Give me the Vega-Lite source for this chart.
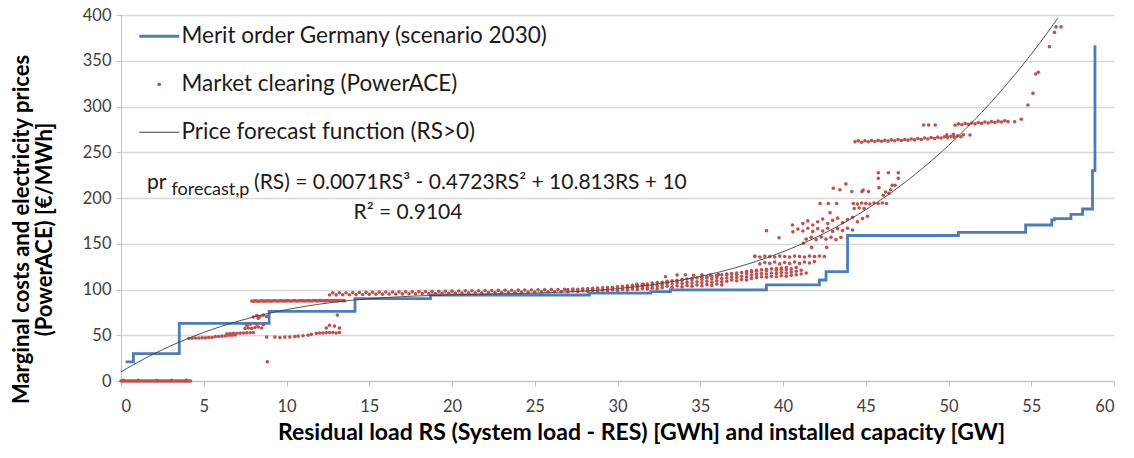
{
  "$schema": "https://vega.github.io/schema/vega-lite/v6.json",
  "width": 993,
  "height": 366,
  "autosize": "none",
  "padding": {"left": 121, "top": 15, "right": 20, "bottom": 77},
  "background": "white",
  "config": {"view": {"stroke": null}, "font": "Lato"},
  "datasets": {
    "merit": [
      {"x": 0.28, "y": 21}, {"x": 0.75, "y": 30}, {"x": 3.52, "y": 63}, {"x": 8.95, "y": 76},
      {"x": 14.14, "y": 90}, {"x": 18.7, "y": 94}, {"x": 28.3, "y": 96}, {"x": 32.0, "y": 97.6},
      {"x": 33.2, "y": 99.5}, {"x": 39.0, "y": 105}, {"x": 42.2, "y": 110.4}, {"x": 42.6, "y": 119.5},
      {"x": 43.9, "y": 159}, {"x": 50.6, "y": 162.5}, {"x": 54.66, "y": 170.5}, {"x": 56.24, "y": 176},
      {"x": 56.4, "y": 177.5}, {"x": 57.4, "y": 182}, {"x": 58.1, "y": 188}, {"x": 58.7, "y": 230},
      {"x": 58.85, "y": 367}
    ],
    "forecast": [
      {"x": 0, "y": 10}, {"x": 1, "y": 20.35}, {"x": 2, "y": 29.79}, {"x": 3, "y": 38.38},
      {"x": 4, "y": 46.15}, {"x": 5, "y": 53.15}, {"x": 6, "y": 59.41}, {"x": 7, "y": 64.98},
      {"x": 8, "y": 69.91}, {"x": 9, "y": 74.24}, {"x": 10, "y": 77.99}, {"x": 12, "y": 84.01},
      {"x": 14, "y": 88.29}, {"x": 16, "y": 91.18}, {"x": 18, "y": 93.02}, {"x": 20, "y": 94.14},
      {"x": 22, "y": 94.89}, {"x": 24, "y": 95.62}, {"x": 26, "y": 96.65}, {"x": 28, "y": 98.34},
      {"x": 30, "y": 101.02}, {"x": 32, "y": 105.03}, {"x": 34, "y": 110.72}, {"x": 36, "y": 118.42},
      {"x": 38, "y": 128.48}, {"x": 40, "y": 141.24}, {"x": 42, "y": 157.03}, {"x": 44, "y": 176.21},
      {"x": 46, "y": 199.1}, {"x": 48, "y": 226.05}, {"x": 50, "y": 257.4}, {"x": 52, "y": 293.49},
      {"x": 54, "y": 334.67}, {"x": 55, "y": 357.27}, {"x": 56, "y": 381.27}, {"x": 56.6, "y": 396.4}
    ],
    "market": [
      {"x": 0.0, "y": 0}, {"x": 0.1, "y": 0}, {"x": 0.2, "y": 0}, {"x": 0.3, "y": 0}, {"x": 0.4, "y": 0}, {"x": 0.5, "y": 0}, {"x": 0.6, "y": 0}, {"x": 0.7, "y": 0}, {"x": 0.8, "y": 0}, {"x": 0.9, "y": 0},
      {"x": 1.0, "y": 0}, {"x": 1.1, "y": 0}, {"x": 1.2, "y": 0}, {"x": 1.3, "y": 0}, {"x": 1.4, "y": 0}, {"x": 1.5, "y": 0}, {"x": 1.6, "y": 0}, {"x": 1.7, "y": 0}, {"x": 1.8, "y": 0}, {"x": 1.9, "y": 0},
      {"x": 2.0, "y": 0}, {"x": 2.1, "y": 0}, {"x": 2.2, "y": 0}, {"x": 2.3, "y": 0}, {"x": 2.4, "y": 0}, {"x": 2.5, "y": 0}, {"x": 2.6, "y": 0}, {"x": 2.7, "y": 0}, {"x": 2.8, "y": 0}, {"x": 2.9, "y": 0},
      {"x": 3.0, "y": 0}, {"x": 3.1, "y": 0}, {"x": 3.2, "y": 0}, {"x": 3.3, "y": 0}, {"x": 3.4, "y": 0}, {"x": 3.5, "y": 0}, {"x": 3.6, "y": 0}, {"x": 3.7, "y": 0}, {"x": 3.8, "y": 0}, {"x": 3.9, "y": 0},
      {"x": 4.0, "y": 0}, {"x": 4.1, "y": 0}, {"x": 4.2, "y": 0}, {"x": 0.15, "y": 0.8}, {"x": 1.05, "y": 0.8}, {"x": 2.15, "y": 0.8}, {"x": 3.05, "y": 0.8}, {"x": 3.95, "y": 0.8},
      {"x": 4.1, "y": 46.5}, {"x": 4.3, "y": 46.8}, {"x": 4.5, "y": 47}, {"x": 4.7, "y": 47}, {"x": 4.9, "y": 47.2},
      {"x": 5.1, "y": 47.3}, {"x": 5.3, "y": 47.5}, {"x": 5.5, "y": 47.6}, {"x": 5.7, "y": 48.5}, {"x": 5.9, "y": 48.7},
      {"x": 6.1, "y": 49}, {"x": 6.3, "y": 49.2}, {"x": 6.5, "y": 50}, {"x": 6.7, "y": 50}, {"x": 6.9, "y": 50.2},
      {"x": 6.4, "y": 51.5}, {"x": 6.6, "y": 51.8}, {"x": 6.8, "y": 52}, {"x": 7.0, "y": 52.2}, {"x": 7.2, "y": 52.3},
      {"x": 7.4, "y": 52.5}, {"x": 7.6, "y": 52.6}, {"x": 7.8, "y": 52.8}, {"x": 8.0, "y": 53},
      {"x": 7.5, "y": 57.5}, {"x": 7.7, "y": 58}, {"x": 7.9, "y": 57.5}, {"x": 8.1, "y": 58.5}, {"x": 8.3, "y": 59},
      {"x": 8.5, "y": 58}, {"x": 7.6, "y": 61}, {"x": 7.8, "y": 62}, {"x": 8.2, "y": 62}, {"x": 8.6, "y": 61.5},
      {"x": 8.0, "y": 70}, {"x": 8.2, "y": 71.5}, {"x": 8.4, "y": 70.5}, {"x": 8.6, "y": 72}, {"x": 8.8, "y": 70.5}, {"x": 8.3, "y": 68.5},
      {"x": 7.9, "y": 87.4}, {"x": 8.0, "y": 87.2}, {"x": 8.1, "y": 87.6}, {"x": 8.2, "y": 87.4}, {"x": 8.3, "y": 87.2}, {"x": 8.4, "y": 87.5}, {"x": 8.5, "y": 87.6}, {"x": 8.6, "y": 87.3}, {"x": 8.7, "y": 87.3},
      {"x": 8.8, "y": 87.5}, {"x": 8.9, "y": 87.6}, {"x": 9.0, "y": 87.4}, {"x": 9.1, "y": 87.3}, {"x": 9.2, "y": 87.6}, {"x": 9.3, "y": 87.7}, {"x": 9.4, "y": 87.4}, {"x": 9.5, "y": 87.4}, {"x": 9.6, "y": 87.6}, {"x": 9.7, "y": 87.7},
      {"x": 9.8, "y": 87.5}, {"x": 9.9, "y": 87.4}, {"x": 10.0, "y": 87.6}, {"x": 10.1, "y": 87.7}, {"x": 10.2, "y": 87.5}, {"x": 10.3, "y": 87.4}, {"x": 10.4, "y": 87.7}, {"x": 10.5, "y": 87.8}, {"x": 10.6, "y": 87.5}, {"x": 10.7, "y": 87.5},
      {"x": 10.8, "y": 87.7}, {"x": 10.9, "y": 87.8}, {"x": 11.0, "y": 87.6}, {"x": 11.1, "y": 87.5}, {"x": 11.2, "y": 87.7}, {"x": 11.3, "y": 87.8}, {"x": 11.4, "y": 87.6}, {"x": 11.5, "y": 87.5}, {"x": 11.6, "y": 87.8}, {"x": 11.7, "y": 87.9},
      {"x": 11.8, "y": 87.6}, {"x": 11.9, "y": 87.6}, {"x": 12.0, "y": 87.8}, {"x": 12.1, "y": 87.9}, {"x": 12.2, "y": 87.7}, {"x": 12.3, "y": 87.6}, {"x": 12.4, "y": 87.8}, {"x": 12.5, "y": 87.9}, {"x": 12.6, "y": 87.7}, {"x": 12.7, "y": 87.6},
      {"x": 12.8, "y": 87.9}, {"x": 12.9, "y": 88}, {"x": 13.0, "y": 87.8}, {"x": 13.1, "y": 87.7}, {"x": 13.2, "y": 87.9}, {"x": 13.3, "y": 88}, {"x": 13.4, "y": 87.8}, {"x": 13.5, "y": 87.7},
      {"x": 8.8, "y": 48}, {"x": 9.3, "y": 48}, {"x": 9.6, "y": 47.5}, {"x": 9.9, "y": 48}, {"x": 10.2, "y": 48},
      {"x": 10.5, "y": 48.5}, {"x": 10.7, "y": 49}, {"x": 11.0, "y": 49.5}, {"x": 11.3, "y": 50}, {"x": 11.5, "y": 51},
      {"x": 11.8, "y": 52}, {"x": 12.0, "y": 52.5}, {"x": 12.2, "y": 52.5}, {"x": 12.4, "y": 52.8}, {"x": 12.6, "y": 53},
      {"x": 12.8, "y": 53}, {"x": 13.0, "y": 52.5}, {"x": 13.2, "y": 53},
      {"x": 8.84, "y": 21}, {"x": 12.4, "y": 58}, {"x": 12.6, "y": 61}, {"x": 12.9, "y": 60}, {"x": 13.07, "y": 72}, {"x": 13.2, "y": 58},
      {"x": 12.6, "y": 94.0}, {"x": 13.0, "y": 94.1}, {"x": 13.4, "y": 94.2}, {"x": 13.8, "y": 94.3}, {"x": 14.2, "y": 94.4},
      {"x": 14.6, "y": 94.6}, {"x": 15.0, "y": 94.7}, {"x": 15.4, "y": 94.8}, {"x": 15.8, "y": 94.9}, {"x": 16.2, "y": 95.0},
      {"x": 16.6, "y": 95.1}, {"x": 17.0, "y": 95.2}, {"x": 17.4, "y": 95.3}, {"x": 17.8, "y": 95.4}, {"x": 18.2, "y": 95.5},
      {"x": 18.6, "y": 95.6}, {"x": 19.0, "y": 95.7}, {"x": 19.4, "y": 95.8}, {"x": 19.8, "y": 95.9}, {"x": 20.2, "y": 96.0},
      {"x": 20.6, "y": 96.2}, {"x": 21.0, "y": 96.3}, {"x": 21.4, "y": 96.4}, {"x": 21.8, "y": 96.5}, {"x": 22.2, "y": 96.6},
      {"x": 22.6, "y": 96.7}, {"x": 23.0, "y": 96.8}, {"x": 23.4, "y": 96.9}, {"x": 23.8, "y": 97.0}, {"x": 24.2, "y": 97.1},
      {"x": 24.6, "y": 97.2}, {"x": 25.0, "y": 97.3}, {"x": 25.4, "y": 97.4}, {"x": 25.8, "y": 97.6}, {"x": 26.2, "y": 97.7},
      {"x": 26.6, "y": 97.8},
      {"x": 12.8, "y": 96.3}, {"x": 13.2, "y": 96.4}, {"x": 13.6, "y": 96.5}, {"x": 14.0, "y": 96.6}, {"x": 14.4, "y": 96.8},
      {"x": 14.8, "y": 96.9}, {"x": 15.2, "y": 97.0}, {"x": 15.6, "y": 97.1}, {"x": 16.0, "y": 97.2}, {"x": 16.4, "y": 97.3},
      {"x": 16.8, "y": 97.4}, {"x": 17.2, "y": 97.5}, {"x": 17.6, "y": 97.6}, {"x": 18.0, "y": 97.7}, {"x": 18.4, "y": 97.8},
      {"x": 18.8, "y": 97.9}, {"x": 19.2, "y": 98.0}, {"x": 19.6, "y": 98.1}, {"x": 20.0, "y": 98.2}, {"x": 20.4, "y": 98.4},
      {"x": 20.8, "y": 98.5}, {"x": 21.2, "y": 98.6}, {"x": 21.6, "y": 98.7}, {"x": 22.0, "y": 98.8}, {"x": 22.4, "y": 98.9},
      {"x": 22.8, "y": 99.0}, {"x": 23.2, "y": 99.1}, {"x": 23.6, "y": 99.2}, {"x": 24.0, "y": 99.3}, {"x": 24.4, "y": 99.4},
      {"x": 24.8, "y": 99.5}, {"x": 25.2, "y": 99.6}, {"x": 25.6, "y": 99.8}, {"x": 26.0, "y": 99.9}, {"x": 26.4, "y": 100.0},
      {"x": 26.8, "y": 100.1},
      {"x": 27.0, "y": 97.5}, {"x": 27.0, "y": 100}, {"x": 27.3, "y": 98.5}, {"x": 27.3, "y": 100.5}, {"x": 27.6, "y": 97.8}, {"x": 27.6, "y": 100.3},
      {"x": 27.9, "y": 98.7}, {"x": 27.9, "y": 100.8}, {"x": 28.2, "y": 98}, {"x": 28.2, "y": 101}, {"x": 28.5, "y": 99}, {"x": 28.5, "y": 101.3},
      {"x": 28.8, "y": 98.3}, {"x": 28.8, "y": 101.5}, {"x": 29.1, "y": 99.2}, {"x": 29.1, "y": 101.8}, {"x": 29.4, "y": 98.6}, {"x": 29.4, "y": 102},
      {"x": 29.7, "y": 99.5}, {"x": 29.7, "y": 102.5}, {"x": 30.0, "y": 99}, {"x": 30.0, "y": 103}, {"x": 30.3, "y": 100}, {"x": 30.3, "y": 103.5},
      {"x": 30.6, "y": 99.5}, {"x": 30.6, "y": 102}, {"x": 30.6, "y": 104}, {"x": 30.9, "y": 100.5}, {"x": 30.9, "y": 103}, {"x": 30.9, "y": 104.5},
      {"x": 31.2, "y": 100}, {"x": 31.2, "y": 102.5}, {"x": 31.2, "y": 105}, {"x": 31.5, "y": 101}, {"x": 31.5, "y": 103.5}, {"x": 31.5, "y": 105.5},
      {"x": 31.8, "y": 100.5}, {"x": 31.8, "y": 103}, {"x": 31.8, "y": 106}, {"x": 32.1, "y": 101.5}, {"x": 32.1, "y": 104.5}, {"x": 32.1, "y": 107},
      {"x": 32.4, "y": 101}, {"x": 32.4, "y": 104}, {"x": 32.4, "y": 107.5},
      {"x": 32.7, "y": 102}, {"x": 32.7, "y": 105}, {"x": 32.7, "y": 108},
      {"x": 33.0, "y": 103.5}, {"x": 33.0, "y": 106.5}, {"x": 33.0, "y": 109},
      {"x": 33.3, "y": 102.5}, {"x": 33.3, "y": 106}, {"x": 33.3, "y": 109.5},
      {"x": 33.6, "y": 104}, {"x": 33.6, "y": 107.5}, {"x": 33.6, "y": 110},
      {"x": 33.9, "y": 103}, {"x": 33.9, "y": 106.5}, {"x": 33.9, "y": 110}, {"x": 33.9, "y": 111},
      {"x": 34.2, "y": 104.5}, {"x": 34.2, "y": 108}, {"x": 34.2, "y": 111.5},
      {"x": 34.5, "y": 103.5}, {"x": 34.5, "y": 107}, {"x": 34.5, "y": 110.5}, {"x": 34.5, "y": 112},
      {"x": 34.8, "y": 105}, {"x": 34.8, "y": 108.5}, {"x": 34.8, "y": 112.5},
      {"x": 35.1, "y": 104}, {"x": 35.1, "y": 107.5}, {"x": 35.1, "y": 111}, {"x": 35.1, "y": 113.5},
      {"x": 35.4, "y": 105.5}, {"x": 35.4, "y": 109}, {"x": 35.4, "y": 112.5}, {"x": 35.4, "y": 114},
      {"x": 35.7, "y": 104.5}, {"x": 35.7, "y": 108}, {"x": 35.7, "y": 111.5}, {"x": 35.7, "y": 114.5},
      {"x": 36.0, "y": 106}, {"x": 36.0, "y": 109.5}, {"x": 36.0, "y": 113}, {"x": 36.0, "y": 115.5},
      {"x": 36.3, "y": 105}, {"x": 36.3, "y": 108.5}, {"x": 36.3, "y": 112}, {"x": 36.3, "y": 116},
      {"x": 36.6, "y": 109}, {"x": 36.6, "y": 112.5}, {"x": 36.6, "y": 116}, {"x": 36.6, "y": 117},
      {"x": 36.9, "y": 110.5}, {"x": 36.9, "y": 114}, {"x": 36.9, "y": 117.5},
      {"x": 37.2, "y": 109.5}, {"x": 37.2, "y": 113}, {"x": 37.2, "y": 116.5}, {"x": 37.2, "y": 118},
      {"x": 37.5, "y": 111}, {"x": 37.5, "y": 114.5}, {"x": 37.5, "y": 118.5},
      {"x": 37.8, "y": 110.5}, {"x": 37.8, "y": 114}, {"x": 37.8, "y": 117.5}, {"x": 37.8, "y": 119.5},
      {"x": 38.1, "y": 112}, {"x": 38.1, "y": 115.5}, {"x": 38.1, "y": 119}, {"x": 38.1, "y": 120.5},
      {"x": 38.4, "y": 113}, {"x": 38.4, "y": 116.5}, {"x": 38.4, "y": 120}, {"x": 38.4, "y": 121},
      {"x": 38.7, "y": 114}, {"x": 38.7, "y": 117.5}, {"x": 38.7, "y": 121.5},
      {"x": 39.0, "y": 113.5}, {"x": 39.0, "y": 117}, {"x": 39.0, "y": 120.5}, {"x": 39.0, "y": 122},
      {"x": 39.3, "y": 114.5}, {"x": 39.3, "y": 118}, {"x": 39.3, "y": 122.5},
      {"x": 39.6, "y": 114}, {"x": 39.6, "y": 117.5}, {"x": 39.6, "y": 121}, {"x": 39.6, "y": 123},
      {"x": 39.9, "y": 115}, {"x": 39.9, "y": 118.5}, {"x": 39.9, "y": 122}, {"x": 39.9, "y": 123.5},
      {"x": 40.2, "y": 114.5}, {"x": 40.2, "y": 118}, {"x": 40.2, "y": 121.5}, {"x": 40.2, "y": 124},
      {"x": 40.5, "y": 115.5}, {"x": 40.5, "y": 119}, {"x": 40.5, "y": 122.5},
      {"x": 40.8, "y": 116}, {"x": 40.8, "y": 120}, {"x": 40.8, "y": 124},
      {"x": 41.1, "y": 117}, {"x": 41.1, "y": 121}, {"x": 41.4, "y": 118},
      {"x": 38.6, "y": 128}, {"x": 38.9, "y": 129.5}, {"x": 39.2, "y": 128.5}, {"x": 39.5, "y": 130}, {"x": 39.8, "y": 128},
      {"x": 40.1, "y": 129.5}, {"x": 40.4, "y": 128.5}, {"x": 40.7, "y": 130}, {"x": 41.0, "y": 128.5}, {"x": 41.3, "y": 130},
      {"x": 41.6, "y": 129}, {"x": 41.9, "y": 130.5},
      {"x": 38.3, "y": 136}, {"x": 38.6, "y": 135.5}, {"x": 38.9, "y": 136.5}, {"x": 39.2, "y": 136}, {"x": 39.5, "y": 135.5},
      {"x": 39.8, "y": 136.5}, {"x": 40.1, "y": 136}, {"x": 40.4, "y": 135.5}, {"x": 40.7, "y": 136.5}, {"x": 41.0, "y": 136},
      {"x": 41.3, "y": 135.5}, {"x": 41.6, "y": 136.5}, {"x": 41.9, "y": 136}, {"x": 42.2, "y": 136.5}, {"x": 42.5, "y": 136},
      {"x": 41.4, "y": 155}, {"x": 41.7, "y": 157}, {"x": 42.0, "y": 154.5}, {"x": 42.3, "y": 157.5}, {"x": 42.6, "y": 155},
      {"x": 42.9, "y": 157}, {"x": 43.2, "y": 154.5}, {"x": 43.5, "y": 157},
      {"x": 40.6, "y": 163}, {"x": 40.9, "y": 166}, {"x": 41.2, "y": 164}, {"x": 41.5, "y": 167}, {"x": 41.8, "y": 163.5},
      {"x": 42.1, "y": 166.5}, {"x": 42.4, "y": 164}, {"x": 42.7, "y": 167}, {"x": 43.0, "y": 163.5}, {"x": 43.3, "y": 166.5},
      {"x": 43.6, "y": 164.5}, {"x": 43.9, "y": 167}, {"x": 44.2, "y": 165},
      {"x": 41.2, "y": 172}, {"x": 41.5, "y": 175}, {"x": 41.8, "y": 170.5}, {"x": 42.1, "y": 174}, {"x": 42.4, "y": 177},
      {"x": 42.7, "y": 172}, {"x": 43.0, "y": 175.5}, {"x": 43.3, "y": 178}, {"x": 43.6, "y": 173}, {"x": 43.9, "y": 176.5},
      {"x": 44.2, "y": 179}, {"x": 44.5, "y": 174}, {"x": 44.8, "y": 177.5}, {"x": 45.1, "y": 180},
      {"x": 44.3, "y": 188.5}, {"x": 44.6, "y": 189}, {"x": 44.9, "y": 188.5},
      {"x": 44.25, "y": 194}, {"x": 44.5, "y": 193.5}, {"x": 44.75, "y": 194.5}, {"x": 45.0, "y": 194}, {"x": 45.25, "y": 193.5},
      {"x": 45.5, "y": 194.5}, {"x": 45.75, "y": 194}, {"x": 46.0, "y": 194.5}, {"x": 46.25, "y": 194},
      {"x": 43.04, "y": 210.6}, {"x": 43.44, "y": 209}, {"x": 43.8, "y": 215.4}, {"x": 44.16, "y": 207}, {"x": 44.77, "y": 207},
      {"x": 45.17, "y": 207}, {"x": 44.85, "y": 208.7}, {"x": 45.76, "y": 227.6}, {"x": 46.37, "y": 227.6}, {"x": 46.97, "y": 227.6},
      {"x": 45.76, "y": 221.6}, {"x": 46.97, "y": 221.6}, {"x": 45.8, "y": 211.3}, {"x": 46.4, "y": 205}, {"x": 46.5, "y": 209},
      {"x": 46.6, "y": 214}, {"x": 46.06, "y": 203}, {"x": 46.2, "y": 206.6}, {"x": 46.77, "y": 214},
      {"x": 39.0, "y": 164.3}, {"x": 39.76, "y": 156.6}, {"x": 40.57, "y": 170.5}, {"x": 41.23, "y": 150.5}, {"x": 41.73, "y": 146},
      {"x": 42.64, "y": 146}, {"x": 42.84, "y": 184}, {"x": 42.24, "y": 194}, {"x": 42.74, "y": 194}, {"x": 43.24, "y": 194},
      {"x": 38.3, "y": 136.6}, {"x": 32.9, "y": 114}, {"x": 31.16, "y": 105.7}, {"x": 31.56, "y": 105.7}, {"x": 33.6, "y": 115.8},
      {"x": 34.1, "y": 116}, {"x": 34.6, "y": 115.5}, {"x": 35.1, "y": 116}, {"x": 35.6, "y": 115.8}, {"x": 36.1, "y": 116.2},
      {"x": 44.35, "y": 261.5}, {"x": 44.55, "y": 262.5}, {"x": 44.75, "y": 261}, {"x": 44.95, "y": 262.5}, {"x": 45.15, "y": 261.5},
      {"x": 45.35, "y": 262.8}, {"x": 45.55, "y": 261.8}, {"x": 45.75, "y": 263}, {"x": 45.95, "y": 262}, {"x": 46.15, "y": 263},
      {"x": 46.35, "y": 262.2}, {"x": 46.55, "y": 263.5}, {"x": 46.75, "y": 262.5}, {"x": 46.95, "y": 263.8}, {"x": 47.15, "y": 262.8},
      {"x": 47.35, "y": 264}, {"x": 47.55, "y": 263.2}, {"x": 47.75, "y": 264.5}, {"x": 47.95, "y": 263.5}, {"x": 48.15, "y": 265},
      {"x": 48.35, "y": 264}, {"x": 48.55, "y": 265.5}, {"x": 48.75, "y": 264.5}, {"x": 48.95, "y": 266}, {"x": 49.15, "y": 265},
      {"x": 49.35, "y": 266.5}, {"x": 49.55, "y": 265.5}, {"x": 49.75, "y": 267}, {"x": 49.95, "y": 266}, {"x": 50.15, "y": 267.5},
      {"x": 50.35, "y": 266.5}, {"x": 50.55, "y": 268}, {"x": 50.75, "y": 267}, {"x": 49.9, "y": 269}, {"x": 50.3, "y": 269.5}, {"x": 50.9, "y": 269}, {"x": 51.3, "y": 268.8},
      {"x": 50.4, "y": 279.5}, {"x": 50.6, "y": 281}, {"x": 50.8, "y": 280}, {"x": 51.0, "y": 281.5}, {"x": 51.2, "y": 280.5},
      {"x": 51.4, "y": 282}, {"x": 51.6, "y": 281}, {"x": 51.8, "y": 282.5}, {"x": 52.0, "y": 281.5}, {"x": 52.2, "y": 283},
      {"x": 52.4, "y": 282}, {"x": 52.6, "y": 283.5}, {"x": 52.8, "y": 282.5}, {"x": 53.0, "y": 284}, {"x": 53.2, "y": 283},
      {"x": 53.4, "y": 284.5}, {"x": 53.6, "y": 283.5},
      {"x": 48.5, "y": 279.8}, {"x": 48.8, "y": 279.8}, {"x": 49.2, "y": 279.8}, {"x": 54.0, "y": 283.4}, {"x": 54.4, "y": 286},
      {"x": 54.8, "y": 301.6}, {"x": 55.1, "y": 314.4}, {"x": 55.27, "y": 335.5}, {"x": 55.43, "y": 337.4}, {"x": 56.1, "y": 365.4},
      {"x": 56.4, "y": 381}, {"x": 56.5, "y": 387}, {"x": 56.8, "y": 387}
    ],
    "notes": [{"pr": "pr", "sub": "forecast,p", "eq": "(RS) = 0.0071RS³ - 0.4723RS² + 10.813RS + 10", "r2": "R² = 0.9104"}]
  },
  "layer": [
    {
      "data": {"name": "merit"},
      "mark": {"type": "line", "interpolate": "step-after", "strokeWidth": 2.8},
      "encoding": {
        "x": {
          "field": "x", "type": "quantitative",
          "scale": {"domain": [0, 60], "nice": false},
          "axis": {
            "title": "Residual load RS (System load - RES) [GWh] and installed capacity  [GW]",
            "values": [0, 5, 10, 15, 20, 25, 30, 35, 40, 45, 50, 55, 60],
            "grid": false,
            "domainColor": "#bfbfbf", "domainWidth": 1,
            "tickColor": "#bfbfbf", "tickSize": 5,
            "labelFont": "Lato", "labelFontSize": 16.5, "labelColor": "#404040", "labelPadding": 12,
            "titleFont": "Lato", "titleFontSize": 23, "titleFontWeight": "bold", "titleColor": "#000000",
            "titlePadding": 7, "titleX": 520
          }
        },
        "y": {
          "field": "y", "type": "quantitative",
          "scale": {"domain": [0, 400], "nice": false},
          "axis": {
            "title": ["Marginal costs and electricity prices", "(PowerACE) [€/MWh]"],
            "values": [0, 50, 100, 150, 200, 250, 300, 350, 400],
            "grid": true, "gridColor": "#d9d9d9", "gridWidth": 1.3,
            "domainColor": "#bfbfbf", "domainWidth": 1,
            "tickColor": "#bfbfbf", "tickSize": 5,
            "labelFont": "Lato", "labelFontSize": 16.5, "labelColor": "#404040", "labelPadding": 5,
            "titleFont": "Lato", "titleFontSize": 22, "titleFontWeight": "bold", "titleColor": "#000000",
            "titleLineHeight": 23, "titlePadding": 26, "titleY": 214
          }
        },
        "color": {
          "datum": "Merit order Germany (scenario 2030)",
          "scale": {
            "domain": ["Merit order Germany (scenario 2030)", "Market clearing (PowerACE)", "Price forecast function (RS>0)"],
            "range": ["#4a7ebb", "#c0504d", "#404040"]
          },
          "legend": {
            "orient": "none", "legendX": 27, "legendY": 10, "title": null,
            "padding": 0, "symbolType": "stroke", "symbolSize": 1600, "symbolStrokeWidth": 1,
            "labelFont": "Lato", "labelFontSize": 22.5, "labelColor": "#1a1a1a", "labelOffset": 11,
            "rowPadding": 25, "labelLimit": 600,
            "encode": {
              "symbols": {
                "update": {
                  "shape": {"signal": "datum.value === 'Market clearing (PowerACE)' ? 'circle' : 'stroke'"},
                  "size": {"signal": "datum.value === 'Market clearing (PowerACE)' ? 14 : 1600"},
                  "strokeWidth": {"signal": "datum.value === 'Merit order Germany (scenario 2030)' ? 2.8 : (datum.value === 'Market clearing (PowerACE)' ? 0 : 1)"},
                  "stroke": {"signal": "scale('color', datum.value)"},
                  "fill": {"signal": "datum.value === 'Market clearing (PowerACE)' ? '#c0504d' : 'transparent'"},
                  "opacity": {"value": 1}
                }
              }
            }
          }
        }
      }
    },
    {
      "data": {"name": "market"},
      "mark": {"type": "point", "filled": true, "size": 13, "opacity": 1, "shape": "circle"},
      "encoding": {
        "x": {"field": "x", "type": "quantitative"},
        "y": {"field": "y", "type": "quantitative"},
        "color": {"datum": "Market clearing (PowerACE)"}
      }
    },
    {
      "data": {"name": "forecast"},
      "mark": {"type": "line", "interpolate": "monotone", "strokeWidth": 0.9},
      "encoding": {
        "x": {"field": "x", "type": "quantitative"},
        "y": {"field": "y", "type": "quantitative"},
        "color": {"datum": "Price forecast function (RS>0)"}
      }
    },
    {
      "data": {"name": "notes"},
      "mark": {"type": "text", "align": "left", "baseline": "middle", "font": "Lato", "fontSize": 21, "color": "#1a1a1a"},
      "encoding": {
        "x": {"datum": 1.57, "type": "quantitative"},
        "y": {"datum": 216.5, "type": "quantitative"},
        "text": {"field": "pr"}
      }
    },
    {
      "data": {"name": "notes"},
      "mark": {"type": "text", "align": "left", "baseline": "middle", "font": "Lato", "fontSize": 18, "color": "#1a1a1a"},
      "encoding": {
        "x": {"datum": 3.05, "type": "quantitative"},
        "y": {"datum": 209, "type": "quantitative"},
        "text": {"field": "sub"}
      }
    },
    {
      "data": {"name": "notes"},
      "mark": {"type": "text", "align": "left", "baseline": "middle", "font": "Lato", "fontSize": 21, "color": "#1a1a1a"},
      "encoding": {
        "x": {"datum": 8.04, "type": "quantitative"},
        "y": {"datum": 216.5, "type": "quantitative"},
        "text": {"field": "eq"}
      }
    },
    {
      "data": {"name": "notes"},
      "mark": {"type": "text", "align": "center", "baseline": "middle", "font": "Lato", "fontSize": 21, "color": "#1a1a1a"},
      "encoding": {
        "x": {"datum": 17.34, "type": "quantitative"},
        "y": {"datum": 183.6, "type": "quantitative"},
        "text": {"field": "r2"}
      }
    }
  ]
}
